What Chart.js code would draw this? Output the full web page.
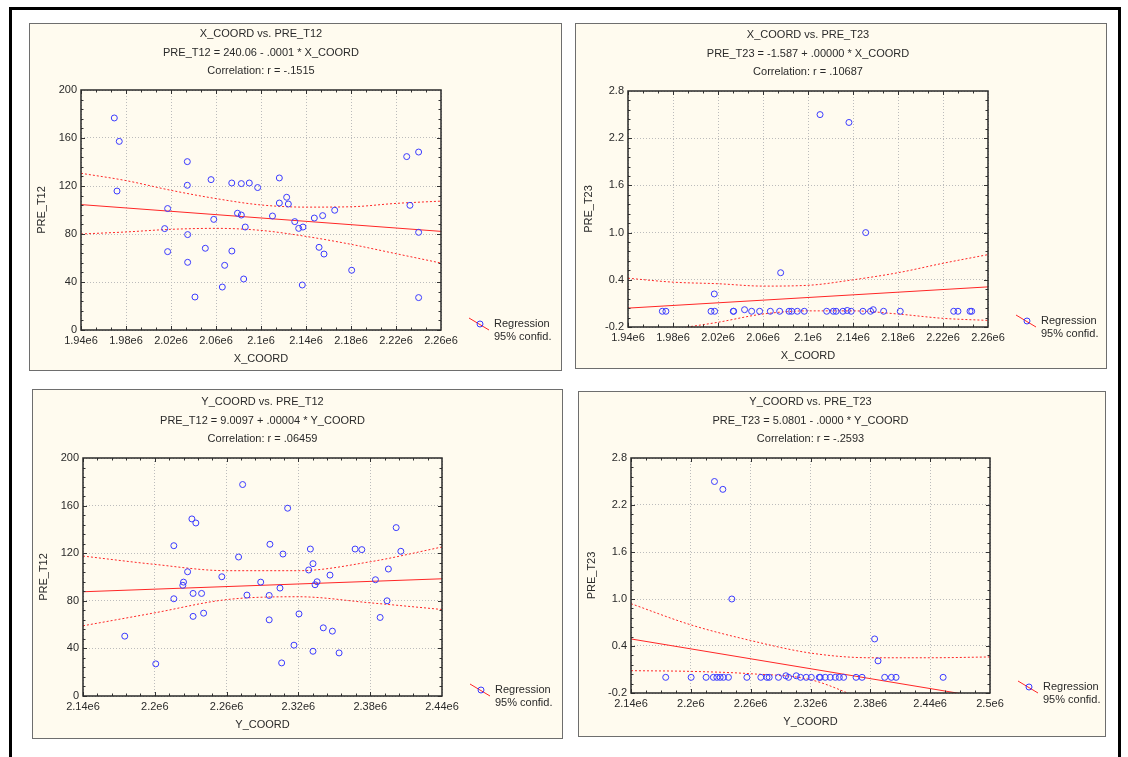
<!DOCTYPE html>
<html>
<head>
<meta charset="utf-8">
<script src="https://cdn.jsdelivr.net/npm/chart.js@4.4.1/dist/chart.umd.min.js"></script>
<style>
  body { margin: 0; background: #fff; width: 1128px; height: 757px; overflow: hidden; position: relative; }
  .frame { position: absolute; left: 9px; top: 7px; width: 1106px; height: 800px; border: 3px solid #000; }
  .panel { position: absolute; box-sizing: border-box; background: #fffbef; border: 1px solid #6e6e6e; }
  .panel canvas { position: absolute; left: 0; top: 0; }
</style>
</head>
<body>
<div class="frame"></div>
<div class="panel" id="p1"><canvas id="c1"></canvas></div>
<div class="panel" id="p2"><canvas id="c2"></canvas></div>
<div class="panel" id="p3"><canvas id="c3"></canvas></div>
<div class="panel" id="p4"><canvas id="c4"></canvas></div>
<script>
// ---- axis ticks ----
const xTicksA = [1940000, 1980000, 2020000, 2060000, 2100000, 2140000, 2180000, 2220000, 2260000];
const xLabelsA = ["1.94e6", "1.98e6", "2.02e6", "2.06e6", "2.1e6", "2.14e6", "2.18e6", "2.22e6", "2.26e6"];
const yTicksB = [2140000, 2200000, 2260000, 2320000, 2380000, 2440000];
const yLabelsB = ["2.14e6", "2.2e6", "2.26e6", "2.32e6", "2.38e6", "2.44e6"];
const yTicksC = [2140000, 2200000, 2260000, 2320000, 2380000, 2440000, 2500000];
const yLabelsC = ["2.14e6", "2.2e6", "2.26e6", "2.32e6", "2.38e6", "2.44e6", "2.5e6"];
const t12Ticks = [0, 40, 80, 120, 160, 200];
const t12Labels = ["0", "40", "80", "120", "160", "200"];
const t23Ticks = [-0.2, 0.4, 1.0, 1.6, 2.2, 2.8];
const t23Labels = ["-0.2", "0.4", "1.0", "1.6", "2.2", "2.8"];

// ---- X_COORD vs PRE_T12 ----
const xc1 = [1969600, 1974000, 1972000, 2034500, 2034500, 2055600, 2074000, 2082500, 2089600, 2097000,
  2116300, 2122800, 2116300, 2124300, 2017000, 2079100, 2082500, 2058000, 2110200, 2130000,
  2014400, 2086000, 2133500, 2137300, 2034800, 2017000, 2050500, 2074100, 2034800, 2067700,
  2084600, 2065600, 2041300, 2136700, 2147400, 2154800, 2165500, 2151600, 2156000, 2180600,
  2229500, 2240100, 2232400, 2240100, 2240100];
const t12a = [176.7, 157.2, 115.8, 140.3, 120.6, 125.3, 122.5, 122.0, 122.5, 118.7,
  126.7, 110.6, 105.8, 105.0, 101.2, 97.3, 95.8, 92.2, 95.0, 90.3,
  84.5, 85.8, 84.7, 85.8, 79.5, 65.3, 68.1, 65.8, 56.4, 53.9,
  42.5, 35.8, 27.5, 37.5, 93.3, 95.3, 99.8, 68.9, 63.3, 49.8,
  144.5, 148.3, 103.9, 81.4, 27.0];
const reg1X = [1940000, 2260000];
const reg1Y = [104.5, 82.2];
const up1 = [130.6, 124.5, 116.4, 109.5, 104.2, 102.4, 102.7, 105.5, 107.4];
const lo1 = [80.0, 81.7, 83.9, 84.7, 83.0, 78.0, 71.4, 63.6, 55.8];

// ---- X_COORD vs PRE_T23 ----
const xc2 = [1970500, 1973700, 2013800, 2017000, 2016700, 2033600, 2033900, 2043600, 2049900, 2057000,
  2066500, 2074800, 2075700, 2083100, 2085500, 2090500, 2096700, 2110700, 2136400, 2151300,
  2116600, 2122500, 2125000, 2131000, 2134900, 2138400, 2148800, 2155600, 2158000, 2167200,
  2182000, 2229500, 2233300, 2244000, 2245500];
const t23a = [0, 0, 0, 0, 0.22, 0, 0, 0.02, 0, 0,
  0, 0, 0.49, 0, 0, 0, 0, 2.5, 2.4, 1.0,
  0, 0, 0, 0, 0.01, 0, 0, 0, 0.02, 0,
  0, 0, 0, 0, 0];
const reg2X = [1940000, 2260000];
const reg2Y = [0.04, 0.31];
const up2 = [0.42, 0.37, 0.35, 0.32, 0.33, 0.40, 0.49, 0.61, 0.72];
const lo2 = [-0.34, -0.23, -0.14, -0.035, 0.005, 0.005, -0.035, -0.09, -0.116];

// ---- Y_COORD vs PRE_T12 ----
const yc3 = [2174900, 2200800, 2215900, 2215900, 2231000, 2234300, 2227400, 2224000, 2223400, 2232000,
  2239100, 2232000, 2240800, 2256000, 2270000, 2273400, 2277000, 2288500, 2295600, 2295600,
  2296200, 2307100, 2311000, 2304600, 2316300, 2306000, 2320500, 2330000, 2332200, 2328600,
  2335600, 2333900, 2346400, 2332200, 2340800, 2348400, 2354000, 2367400, 2373000, 2384400,
  2388300, 2394100, 2395200, 2401700, 2405600];
const t12b = [50.3, 27.0, 126.3, 81.7, 148.8, 145.4, 104.4, 95.7, 93.0, 86.2,
  86.2, 66.9, 69.6, 100.2, 116.8, 177.7, 84.8, 95.7, 84.5, 64.0,
  127.5, 119.3, 157.8, 90.7, 42.7, 27.8, 69.0, 123.5, 111.2, 105.9,
  96.0, 93.5, 101.6, 37.6, 57.3, 54.5, 36.2, 123.5, 123.0, 97.7,
  66.0, 80.0, 106.7, 141.5, 121.6];
const reg3X = [2140000, 2440000];
const reg3Y = [87.6, 98.5];
const up3 = [117.6, 110.6, 105.3, 105.3, 112.8, 125.2];
const lo3 = [59.0, 69.9, 81.0, 83.4, 78.3, 72.7];

// ---- Y_COORD vs PRE_T23 ----
const yc4 = [2223700, 2232100, 2241100, 2384300, 2387700,
  2174800, 2200300, 2215300, 2222600, 2226100, 2229400, 2232700, 2237700, 2256200, 2270200,
  2276300, 2278600, 2287900, 2295300, 2298000, 2305700, 2310000, 2315700, 2320800, 2328800,
  2329800, 2334800, 2339800, 2344900, 2348900, 2353200, 2365700, 2371700, 2394400, 2401100,
  2405800, 2453000];
const t23b = [2.5, 2.4, 1.0, 0.49, 0.21,
  0, 0, 0, 0, 0, 0, 0, 0, 0, 0,
  0, 0, 0, 0.02, 0, 0.02, 0, 0, 0, 0,
  0, 0, 0, 0, 0, 0, 0, 0, 0, 0,
  0, 0];
const reg4X = [2140000, 2500000];
const reg4Y = [0.49, -0.27];
const up4 = [0.94, 0.67, 0.47, 0.31, 0.25, 0.25, 0.26];
const lo4 = [0.085, 0.076, 0.046, -0.03, -0.32, -0.6, -0.9];

const FONT = '"Liberation Sans", Arial, sans-serif';
const TXT = '#2a2a2a';
const BLUE = '#3a3aff';
const RED = '#ff2626';

const zip = (xs, ys) => xs.map((x, i) => ({ x: x, y: ys[i] }));

// three title lines centred over the plot area
const headerPlugin = {
  id: 'header',
  afterDraw(chart, args, opts) {
    const { ctx, chartArea: a } = chart;
    const cx = (a.left + a.right) / 2;
    ctx.save();
    ctx.font = '11px ' + FONT;
    ctx.fillStyle = TXT;
    ctx.textAlign = 'center';
    ctx.textBaseline = 'middle';
    opts.lines.forEach((t, i) => ctx.fillText(t, cx, a.top - 56 + i * 18.5));
    ctx.restore();
  }
};

// plot frame with inward ticks on all four sides
const frameTicksPlugin = {
  id: 'frameTicks',
  afterDraw(chart, args, opts) {
    const { ctx, chartArea: a, scales: { x, y } } = chart;
    ctx.save();
    ctx.strokeStyle = '#333';
    ctx.lineWidth = 1;
    ctx.beginPath();
    const xt = opts.xTicks, yt = opts.yTicks;
    for (let i = 0; i < xt.length - 1; i++) {
      for (let k = 0; k < opts.xMinor; k++) {
        const px = Math.round(x.getPixelForValue(xt[i] + (xt[i + 1] - xt[i]) * k / opts.xMinor)) + 0.5;
        const len = k === 0 ? 4 : 2.5;
        ctx.moveTo(px, a.top); ctx.lineTo(px, a.top + len);
        ctx.moveTo(px, a.bottom); ctx.lineTo(px, a.bottom - len);
      }
    }
    for (let i = 0; i < yt.length - 1; i++) {
      for (let k = 0; k < opts.yMinor; k++) {
        const py = Math.round(y.getPixelForValue(yt[i] + (yt[i + 1] - yt[i]) * k / opts.yMinor)) + 0.5;
        const len = k === 0 ? 4 : 2.5;
        ctx.moveTo(a.left, py); ctx.lineTo(a.left + len, py);
        ctx.moveTo(a.right, py); ctx.lineTo(a.right - len, py);
      }
    }
    ctx.stroke();
    ctx.lineWidth = 1.5;
    ctx.strokeStyle = '#2a2a2a';
    ctx.strokeRect(a.left, a.top, a.right - a.left, a.bottom - a.top);
    ctx.restore();
  }
};

// small legend at bottom right of the panel
const legendPlugin = {
  id: 'regLegend',
  afterDraw(chart) {
    const { ctx, chartArea: a } = chart;
    const tx = a.right + 53, y1 = a.bottom - 6, y2 = a.bottom + 7;
    ctx.save();
    ctx.strokeStyle = RED;
    ctx.lineWidth = 1;
    ctx.beginPath();
    ctx.moveTo(tx - 25, y1 - 6);
    ctx.lineTo(tx - 5, y1 + 6);
    ctx.stroke();
    ctx.strokeStyle = BLUE;
    ctx.beginPath();
    ctx.arc(tx - 14, y1, 3, 0, Math.PI * 2);
    ctx.stroke();
    ctx.font = '11px ' + FONT;
    ctx.fillStyle = TXT;
    ctx.textAlign = 'left';
    ctx.textBaseline = 'middle';
    ctx.fillText('Regression', tx, y1);
    ctx.fillText('95% confid.', tx, y2);
    ctx.restore();
  }
};

function axisOpts(ticks, labels, title, horizontal, fitSize, titlePad) {
  return {
    type: 'linear',
    min: ticks[0],
    max: ticks[ticks.length - 1],
    afterBuildTicks: s => { s.ticks = ticks.map(v => ({ value: v })); },
    afterFit: s => { if (horizontal) s.height = fitSize; else s.width = fitSize; },
    ticks: {
      autoSkip: false, maxRotation: 0, padding: 4, color: TXT,
      font: { family: FONT, size: 11 },
      callback: (v, i) => labels[i]
    },
    grid: { color: '#bcbcbc', lineWidth: 1, drawTicks: false },
    border: { display: false, dash: [1, 2] },
    title: {
      display: true, text: title, color: TXT,
      font: { family: FONT, size: 11 },
      padding: horizontal ? { top: 0, bottom: titlePad } : { top: titlePad, bottom: 0 }
    }
  };
}

function makePanel(n, box, plot, d) {
  const panel = document.getElementById('p' + n);
  panel.style.left = box[0] + 'px';
  panel.style.top = box[1] + 'px';
  panel.style.width = (box[2] - box[0]) + 'px';
  panel.style.height = (box[3] - box[1]) + 'px';
  const cl = box[0] + 1, ct = box[1] + 1;
  const cw = box[2] - box[0] - 2, ch = box[3] - box[1] - 2;
  const canvas = document.getElementById('c' + n);
  canvas.width = cw;
  canvas.height = ch;

  const yw = plot[0] - cl;
  const xh = ct + ch - plot[3];
  const yTitlePad = (plot[0] - 39 - cl) - 6.6;
  const xTitlePad = (ct + ch) - (plot[3] + 29) - 6.6;

  new Chart(canvas, {
    type: 'scatter',
    data: {
      datasets: [
        { data: zip(d.px, d.py), pointStyle: 'circle', pointRadius: 3, pointHoverRadius: 3,
          borderColor: BLUE, backgroundColor: 'rgba(0,0,0,0)', borderWidth: 1 },
        { data: zip(d.regX, d.regY), showLine: true, borderColor: RED, borderWidth: 1, pointRadius: 0 },
        { data: zip(d.xTicks, d.up), showLine: true, borderColor: RED, borderWidth: 1, borderDash: [2, 2],
          pointRadius: 0, cubicInterpolationMode: 'monotone' },
        { data: zip(d.xTicks, d.lo), showLine: true, borderColor: RED, borderWidth: 1, borderDash: [2, 2],
          pointRadius: 0, cubicInterpolationMode: 'monotone' }
      ]
    },
    options: {
      responsive: false,
      animation: false,
      devicePixelRatio: 1,
      layout: { padding: { left: 0, top: plot[1] - ct, right: cl + cw - plot[2], bottom: 0 } },
      plugins: {
        legend: { display: false },
        tooltip: { enabled: false },
        header: { lines: d.title },
        frameTicks: { xTicks: d.xTicks, yTicks: d.yTicks, xMinor: d.xMinor, yMinor: 5 }
      },
      scales: {
        x: axisOpts(d.xTicks, d.xLabels, d.xTitle, true, xh, xTitlePad),
        y: axisOpts(d.yTicks, d.yLabels, d.yTitle, false, yw, yTitlePad)
      }
    },
    plugins: [headerPlugin, frameTicksPlugin, legendPlugin]
  });
}

makePanel(1, [29, 23, 562, 371], [81, 90, 441, 330], {
  px: xc1, py: t12a, regX: reg1X, regY: reg1Y, up: up1, lo: lo1,
  xTicks: xTicksA, xLabels: xLabelsA, yTicks: t12Ticks, yLabels: t12Labels, xMinor: 3,
  xTitle: 'X_COORD', yTitle: 'PRE_T12',
  title: ['X_COORD vs. PRE_T12', 'PRE_T12 = 240.06 - .0001 * X_COORD', 'Correlation: r = -.1515']
});
makePanel(2, [575, 23, 1107, 369], [628, 91, 988, 327], {
  px: xc2, py: t23a, regX: reg2X, regY: reg2Y, up: up2, lo: lo2,
  xTicks: xTicksA, xLabels: xLabelsA, yTicks: t23Ticks, yLabels: t23Labels, xMinor: 3,
  xTitle: 'X_COORD', yTitle: 'PRE_T23',
  title: ['X_COORD vs. PRE_T23', 'PRE_T23 = -1.587 + .00000 * X_COORD', 'Correlation: r = .10687']
});
makePanel(3, [32, 389, 563, 739], [83, 458, 442, 696], {
  px: yc3, py: t12b, regX: reg3X, regY: reg3Y, up: up3, lo: lo3,
  xTicks: yTicksB, xLabels: yLabelsB, yTicks: t12Ticks, yLabels: t12Labels, xMinor: 5,
  xTitle: 'Y_COORD', yTitle: 'PRE_T12',
  title: ['Y_COORD vs. PRE_T12', 'PRE_T12 = 9.0097 + .00004 * Y_COORD', 'Correlation: r = .06459']
});
makePanel(4, [578, 391, 1106, 737], [631, 458, 990, 693], {
  px: yc4, py: t23b, regX: reg4X, regY: reg4Y, up: up4, lo: lo4,
  xTicks: yTicksC, xLabels: yLabelsC, yTicks: t23Ticks, yLabels: t23Labels, xMinor: 4,
  xTitle: 'Y_COORD', yTitle: 'PRE_T23',
  title: ['Y_COORD vs. PRE_T23', 'PRE_T23 = 5.0801 - .0000 * Y_COORD', 'Correlation: r = -.2593']
});
</script>
</body>
</html>
